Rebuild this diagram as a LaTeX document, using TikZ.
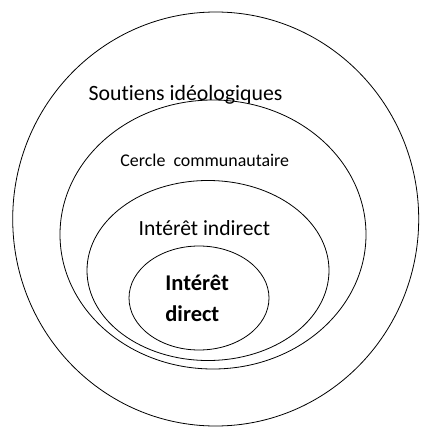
\documentclass[tikz,border=0pt]{standalone}
\usepackage{fontspec}
\setmainfont[Ligatures=NoCommon]{Carlito}
\usepackage{tikz}

\begin{document}
\begin{tikzpicture}[x=1pt,y=-1pt,line width=0.8pt]
\useasboundingbox (0,0) rectangle (420,428);
% cercles
\draw (215.7,219) ellipse [x radius=203,y radius=207];
\draw (213,234.5) ellipse [x radius=153,y radius=134.5];
\draw (208,270.5) ellipse [x radius=121,y radius=90];
\draw (199,298) ellipse [x radius=70,y radius=52];
% textes
\node (ideo) [anchor=base west,inner sep=0pt,font=\fontsize{21.8}{26}\selectfont] at (88.3,100) {Soutiens idéologiques};
\node (comm) [anchor=base west,inner sep=0pt,font=\fontsize{17.9}{21}\selectfont] at (120,166.7) {Cercle\ \ communautaire};
\node (indir) [anchor=base west,inner sep=0pt,font=\fontsize{21.6}{26}\selectfont] at (138.3,235) {Intérêt indirect};
\node (dir) [anchor=base west,inner sep=0pt,font=\bfseries\fontsize{22.5}{26}\selectfont] at (165,290.7) {Intérêt};
\node (dir2) [anchor=base west,inner sep=0pt,font=\bfseries\fontsize{22.5}{26}\selectfont] at (165,321.7) {direct};
\end{tikzpicture}
\end{document}
